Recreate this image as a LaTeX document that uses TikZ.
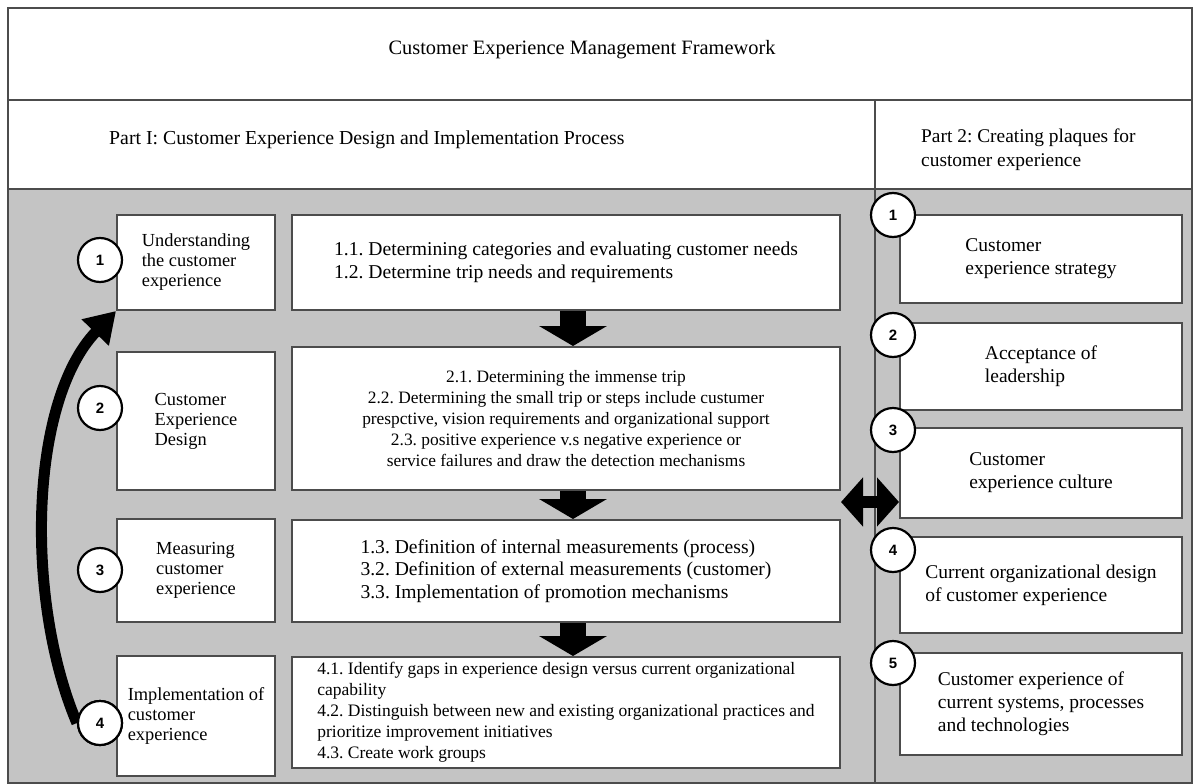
\documentclass[tikz,border=0pt]{standalone}
\usepackage{fontspec}
\setmainfont{Liberation Serif}
\setsansfont{Liberation Sans}
\usetikzlibrary{arrows.meta}
\frenchspacing
\newcommand{\fsz}[2]{\fontsize{#1}{#2}\selectfont}
\tikzstyle{frame}=[draw=black!70,line width=2pt]
\tikzstyle{stepbox}=[rectangle,draw=black!70,line width=2pt,fill=white,inner sep=4pt]
\tikzstyle{labbox}=[stepbox,minimum width=158pt,align=left,font=\fsz{18.4}{20}]
\tikzstyle{conbox}=[stepbox,minimum width=548pt,font=\fsz{19.6}{22.5}]
\tikzstyle{plbox}=[stepbox,minimum width=282pt,align=left,font=\fsz{19.5}{23}]
\tikzstyle{numdot}=[circle,draw=black,line width=2.2pt,fill=white,minimum size=44pt,inner sep=0,font=\sffamily\bfseries\fsz{15}{15}]
\tikzstyle{downarrow}=[line width=26pt,-{Triangle[width=67pt,length=20pt]}]
\tikzstyle{botharrow}=[line width=12pt,{Triangle[width=48pt,length=22pt]}-{Triangle[width=48pt,length=22pt]}]
\tikzstyle{looparrow}=[line width=11pt,-{Triangle[width=36pt,length=30pt]}]
\begin{document}
\begin{tikzpicture}[x=1pt,y=-1pt]
\useasboundingbox (0,0) rectangle (1194,784);

% frame, header rows and grey body
\draw[frame,fill=white] (8,8) rectangle (1192,783);
\fill[black!23] (8,189) rectangle (1192,783);
\draw[frame] (8,100) -- (1192,100);
\draw[frame] (8,189) -- (1192,189);
\draw[frame] (875,100) -- (875,783);
\draw[frame] (8,8) rectangle (1192,783);

\node[inner sep=0,font=\fsz{20.4}{24}] (title) at (582,50) {Customer Experience Management Framework};
\node[inner sep=0,anchor=west,font=\fsz{19.8}{24}] (part1) at (109,140) {Part I: Customer Experience Design and Implementation Process};
\node[inner sep=0,anchor=west,align=left,font=\fsz{19.4}{24}] (part2) at (921,150) {Part 2: Creating plaques for\\customer experience};

% part I: steps
\node[labbox,minimum height=95pt] (lab1) at (196,262.5) {Understanding\\the customer\\experience};
\node[labbox,minimum height=138pt] (lab2) at (196,421) {Customer\\Experience\\Design};
\node[labbox,minimum height=103pt] (lab3) at (196,570.5) {Measuring\\customer\\experience};
\node[labbox,minimum height=120pt] (lab4) at (196,716) {Implementation of\\customer\\experience};

\node[conbox,minimum height=95pt,align=left] (con1) at (566,262.5) {1.1. Determining categories and evaluating customer needs\\1.2. Determine trip needs and requirements};
\node[conbox,minimum height=143pt,align=center,font=\fsz{17.4}{21}] (con2) at (566,418.5) {2.1. Determining the immense trip\\2.2. Determining the small trip or steps include custumer\\prespctive, vision requirements and organizational support\\2.3. positive experience v.s negative experience or\\service failures and draw the detection mechanisms};
\node[conbox,minimum height=102pt,align=left] (con3) at (566,571) {1.3. Definition of internal measurements (process)\\3.2. Definition of external measurements (customer)\\3.3. Implementation of promotion mechanisms};
\node[conbox,minimum height=111pt,align=left,font=\fsz{17.5}{21}] (con4) at (566,712.5) {4.1. Identify gaps in experience design versus current organizational\\capability\\4.2. Distinguish between new and existing organizational practices and\\prioritize improvement initiatives\\4.3. Create work groups};

% part 2: plaques
\node[plbox,minimum height=88pt] (pl1) at (1041,259) {Customer\\experience strategy};
\node[plbox,minimum height=87pt] (pl2) at (1041,366.5) {Acceptance of\\leadership};
\node[plbox,minimum height=90pt] (pl3) at (1041,473) {Customer\\experience culture};
\node[plbox,minimum height=96pt] (pl4) at (1041,585) {Current organizational design\\of customer experience};
\node[plbox,minimum height=102pt] (pl5) at (1041,704) {Customer experience of\\current systems, processes\\and technologies};

% arrows
\coordinate (dnx) at (573,0);
\coordinate (dbl) at (0,502);
\foreach \a/\b in {con1/con2,con2/con3,con3/con4}
	\draw[downarrow] (\a.south -| dnx) -- (\b.north -| dnx);
\draw[botharrow] (con2.east |- dbl) -- (pl3.west |- dbl);

\node[numdot] (s4) at (100,723) {4};
\draw[looparrow] (s4.west) .. controls +(-52,-123) and +(-87,90) .. (lab1.south west);

% numbered dots
\foreach \n/\y in {1/260,2/408,3/570,4/723}
	\node[numdot] (s\n) at (100,\y) {\n};
\foreach \n/\y in {1/215,2/335,3/430,4/550,5/663}
	\node[numdot] (p\n) at (893,\y) {\n};
\end{tikzpicture}
\end{document}
